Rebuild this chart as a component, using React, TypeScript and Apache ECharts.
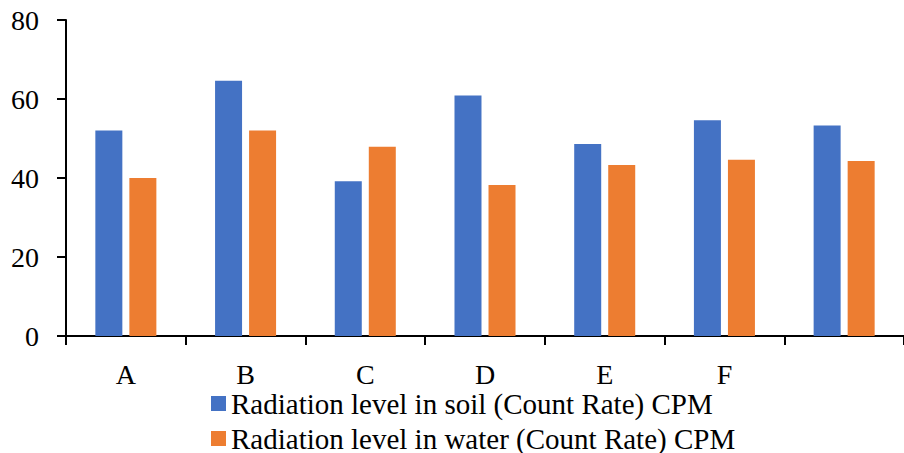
import React, { useEffect, useRef } from "react";
import * as echarts from "echarts";

const categories = ["A", "B", "C", "D", "E", "F", ""];
const soilValues = [52, 64.6, 39.2, 60.9, 48.6, 54.6, 53.3];
const waterValues = [40, 52, 47.9, 38.2, 43.3, 44.6, 44.3];
const soilName = "Radiation level in soil (Count Rate) CPM";
const waterName = "Radiation level in water (Count Rate) CPM";

const FONT = "Liberation Serif";

export default function App() {
  const ref = useRef<HTMLDivElement>(null);
  useEffect(() => {
    if (!ref.current) return;
    const chart = echarts.init(ref.current, undefined, { renderer: "svg" });
    chart.setOption({
      animation: false,
      backgroundColor: "#ffffff",
      textStyle: { fontFamily: FONT },
      grid: { left: 66, top: 20, bottom: 117, right: -9, containLabel: false },
      legend: {
        orient: "vertical",
        left: 211,
        top: 389,
        padding: 0,
        itemWidth: 15,
        itemHeight: 15,
        itemGap: 6,
        icon: "rect",
        textStyle: { fontFamily: FONT, fontSize: 29, color: "#000", lineHeight: 29 },
        data: [soilName, waterName],
      },
      xAxis: {
        type: "category",
        data: categories,
        axisLine: { lineStyle: { color: "#000", width: 2 } },
        axisTick: { show: true, length: 9, lineStyle: { color: "#000", width: 2 } },
        axisLabel: { color: "#000", fontSize: 28, fontFamily: FONT, margin: 24 },
      },
      yAxis: {
        type: "value",
        min: 0,
        max: 80,
        interval: 20,
        axisLine: { show: true, lineStyle: { color: "#000", width: 2 } },
        axisTick: { show: true, length: 9, lineStyle: { color: "#000", width: 2 } },
        splitLine: { show: false },
        axisLabel: { color: "#000", fontSize: 28, fontFamily: FONT, margin: 27 },
      },
      series: [
        {
          name: soilName,
          type: "bar",
          data: soilValues,
          barWidth: 27,
          barGap: "26%",
          itemStyle: { color: "#4472C4" },
        },
        {
          name: waterName,
          type: "bar",
          data: waterValues,
          barWidth: 27,
          itemStyle: { color: "#ED7D31" },
        },
      ],
    });
    return () => chart.dispose();
  }, []);
  return (
    <div
      ref={ref}
      style={{ position: "fixed", left: 0, top: 0, width: 904, height: 453, background: "#fff" }}
    />
  );
}
